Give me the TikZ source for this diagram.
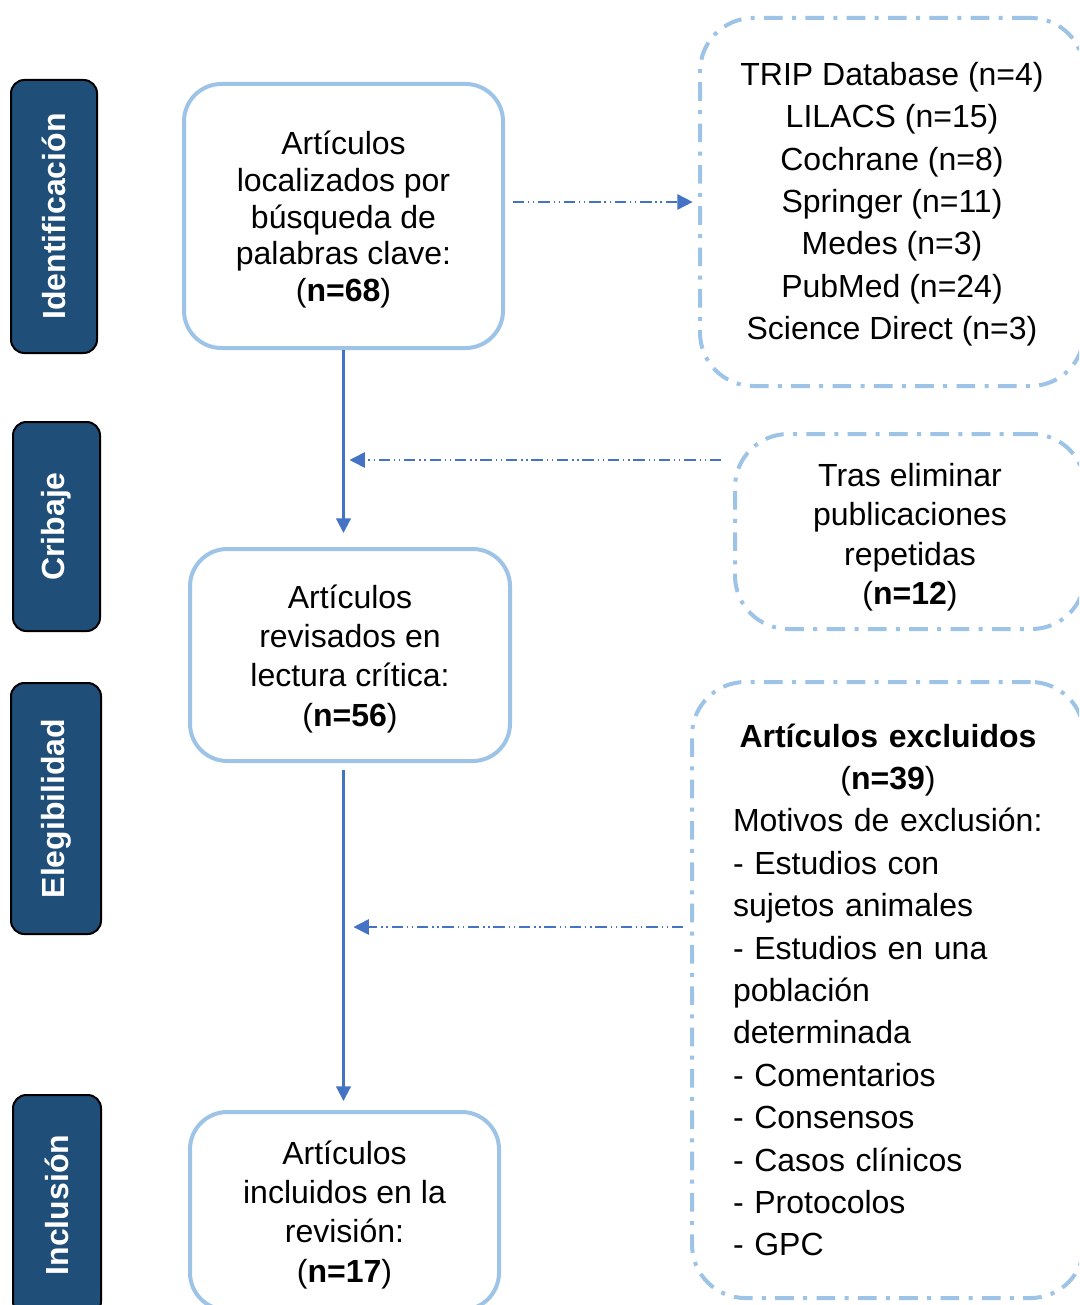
\documentclass[tikz,border=0pt]{standalone}
\usepackage{fontspec}
\setmainfont{Liberation Sans}
\usetikzlibrary{arrows.meta,calc}
\definecolor{lblue}{HTML}{9DC3E6}
\definecolor{dblue}{HTML}{1F4E79}
\definecolor{ablue}{HTML}{4472C4}
\begin{document}
\begin{tikzpicture}[x=0.75pt,y=-0.75pt,
 stagebox/.style={draw=black, line width=1.5pt, fill=dblue, rounded corners=10pt, rotate=90, text=white, font=\fontsize{24}{28}\selectfont\bfseries, inner sep=0pt},
 mainbox/.style={draw=lblue, line width=3pt, rounded corners=28pt, align=center, inner sep=0pt},
 dashbox/.style={draw=lblue, line width=3pt, rounded corners=40pt, dash pattern=on 14pt off 7pt on 3pt off 7pt, inner sep=0pt},
 flow/.style={draw=ablue, line width=1.7pt, -{Triangle[length=11pt,width=11pt]}},
 dd/.style={draw=ablue, line width=1.2pt, dash pattern=on 8.5pt off 2.8pt on 1pt off 2.8pt on 1pt off 3pt, -{Triangle[length=11.5pt,width=11.5pt]}},
]
\useasboundingbox (0,0) rectangle (1079,1305);
\clip (0,0) rectangle (1079,1305);

% stage labels
\node[stagebox, minimum width=204.75pt, minimum height=64.5pt] (s1) at (54,216.5) {Identificación};
\node[stagebox, minimum width=156.75pt, minimum height=65.25pt] (s2) at (56.5,526.5) {Cribaje};
\node[stagebox, minimum width=188.25pt, minimum height=67.5pt] (s3) at (56,808.5) {Elegibilidad};
\node[stagebox, minimum width=165pt, minimum height=66pt] (s4) at (57,1205) {Inclusión};

% main boxes
\node[mainbox, minimum width=239.25pt, minimum height=198pt, font=\fontsize{24}{27.6}\selectfont] (A) at (343.5,216)
 {\rule{0pt}{23pt}Artículos\\localizados por\\búsqueda de\\palabras clave:\\(\textbf{n=68})};
\node[mainbox, minimum width=240pt, minimum height=159pt, font=\fontsize{24}{29.5}\selectfont] (B) at (350,655)
 {\rule{0pt}{23pt}Artículos\\revisados en\\lectura crítica:\\(\textbf{n=56})};
\node[mainbox, minimum width=231.75pt, minimum height=148.5pt, font=\fontsize{24}{29.5}\selectfont] (C) at (344.5,1211)
 {\rule{0pt}{23pt}Artículos\\incluidos en la\\revisión:\\(\textbf{n=17})};

% dashed boxes
\node[dashbox, align=center, minimum width=288pt, minimum height=276pt, font=\fontsize{24}{31.75}\selectfont] (D) at (892,202)
 {\rule{0pt}{20.5pt}TRIP Database (n=4)\\LILACS (n=15)\\Cochrane (n=8)\\Springer (n=11)\\Medes (n=3)\\PubMed (n=24)\\Science Direct (n=3)};
\node[dashbox, align=center, minimum width=262.5pt, minimum height=146.25pt, font=\fontsize{24}{29.5}\selectfont] (E) at (910,531.5)
 {\rule{0pt}{26pt}Tras eliminar\\publicaciones\\repetidas\\(\textbf{n=12})};
\node[dashbox, align=left, text width=232.5pt, minimum width=294pt, minimum height=462pt, font=\fontsize{24}{31.8}\selectfont] (F) at (888,990)
 {\hfill\textbf{Artículos excluidos}\hfill\null\\
  \hfill(\textbf{n=39})\hfill\null\\
  Motivos de exclusión:\\
  - Estudios con\\
  sujetos animales\\
  - Estudios en una\\
  población\\
  determinada\\
  - Comentarios\\
  - Consensos\\
  - Casos clínicos\\
  - Protocolos\\
  - GPC};

% connectors
\draw[flow] (A.south) -- ([yshift=10.5pt]A.south |- B.north);
\draw[flow] ([yshift=-5pt]B.south -| A.south) -- ([yshift=6.75pt]C.north -| A.south);

\draw[dd] ([xshift=6pt]A.east |- D.west) -- ([xshift=-4pt]D.west);
\coordinate (e1) at ($(E.west)+(-12,-71.5)$);
\draw[dd] (e1) -- ([xshift=4.5pt]e1 -| A.south);
\coordinate (f1) at ($(F.west)+(-7,-63)$);
\draw[dd] (f1) -- ([xshift=7.5pt]f1 -| A.south);
\end{tikzpicture}
\end{document}
